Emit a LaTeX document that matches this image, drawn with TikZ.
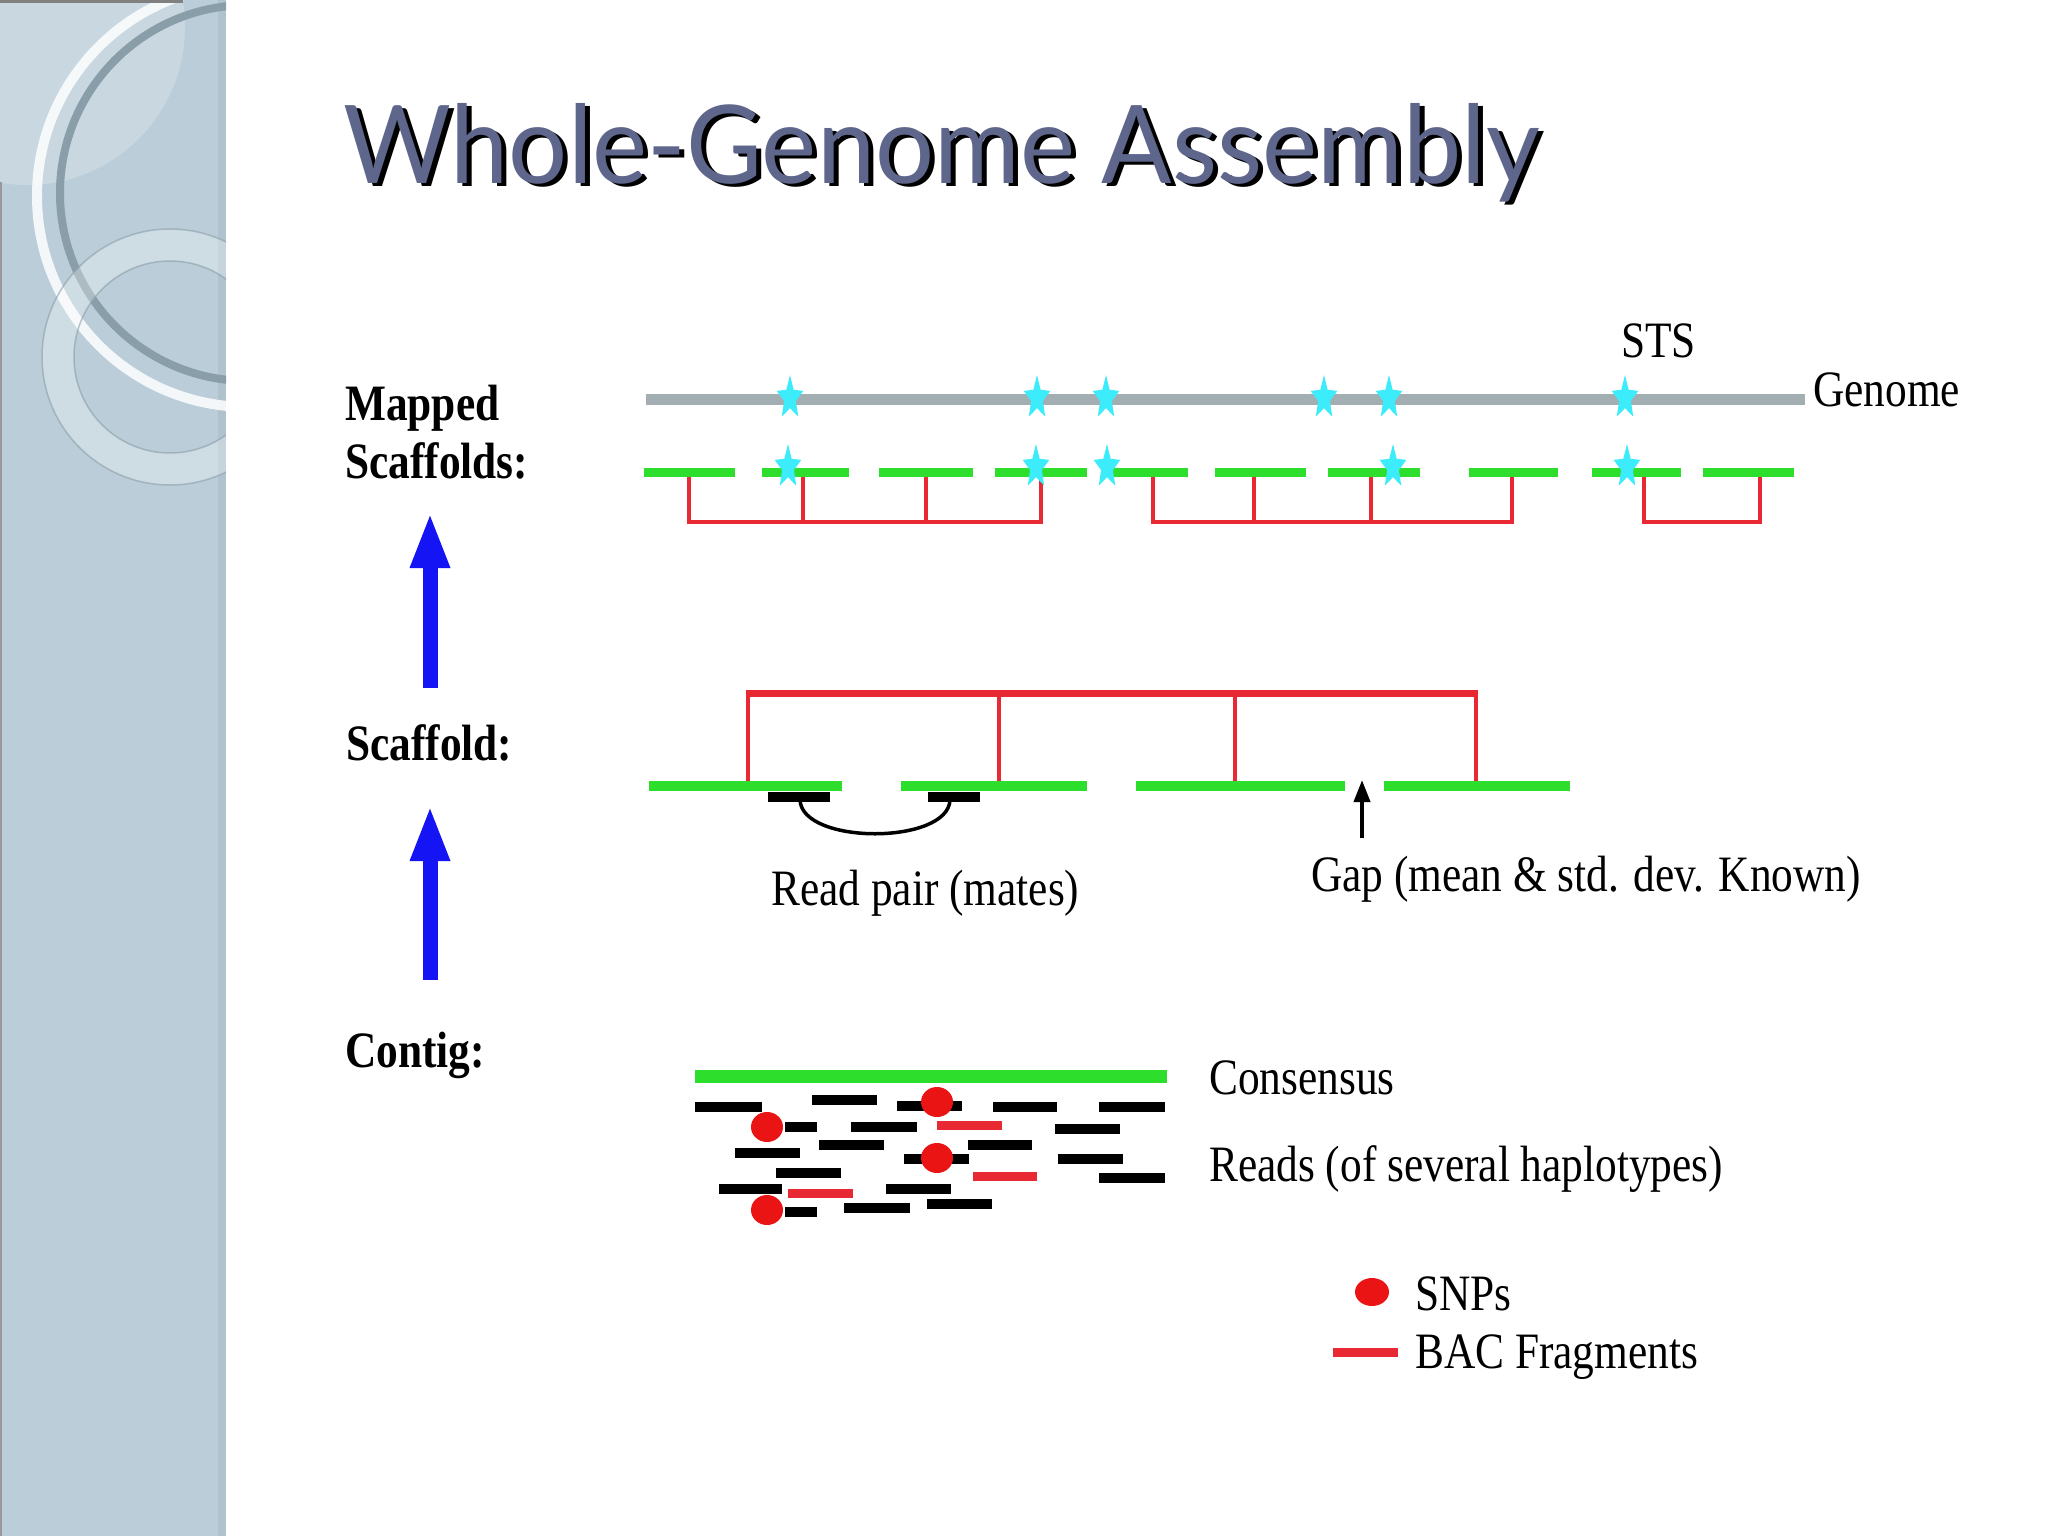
\documentclass[tikz,border=0pt]{standalone}
\usepackage{fontspec}
\setmainfont{Liberation Serif}
\newfontfamily\labfont[FakeStretch=0.85]{Liberation Serif}
\newfontfamily\titlefont{Lato}
\usetikzlibrary{arrows.meta}
\definecolor{sidebg}{RGB}{186,205,216}
\definecolor{sidestripe}{RGB}{168,188,200}
\definecolor{ringdark}{RGB}{138,158,170}
\definecolor{genomegray}{RGB}{163,174,179}
\definecolor{stscyan}{RGB}{60,236,250}
\definecolor{scafgreen}{RGB}{45,222,45}
\definecolor{bacred}{RGB}{232,40,50}
\definecolor{snpred}{RGB}{235,20,20}
\definecolor{titleblue}{RGB}{94,102,140}
\definecolor{arrowblue}{RGB}{20,20,245}
\newcommand\titletext{\resizebox{1196pt}{80pt}{\titlefont Whole-Genome Assembly}}
\tikzset{
  lbl/.style={anchor=base west, inner sep=0pt, font={\labfont\fontsize{51}{58}\selectfont}},
  blbl/.style={anchor=base west, inner sep=0pt, font={\labfont\bfseries\fontsize{51}{58}\selectfont}},
  gline/.style={genomegray, line width=11pt},
  gdash/.style={scafgreen, line width=9pt},
  gmid/.style={scafgreen, line width=10pt},
  bracket/.style={bacred, line width=4pt},
  readbar/.style={black, line width=10pt},
  bacbar/.style={bacred, line width=9pt},
  bluearrow/.style={arrowblue, line width=15pt, -{Triangle[width=36pt,length=56pt]}},
  gaparrow/.style={black, line width=4pt, -{Triangle[width=16pt,length=22pt]}},
  sts/.pic={\fill[stscyan] (90:14pt and 23pt) -- (126:6.2pt and 10.2pt) -- (162:14pt and 23pt) -- (198:6.2pt and 10.2pt) -- (234:14pt and 23pt) -- (270:6.2pt and 10.2pt) -- (306:14pt and 23pt) -- (342:6.2pt and 10.2pt) -- (18:14pt and 23pt) -- (54:6.2pt and 10.2pt) -- cycle;}
}
\begin{document}
\begin{tikzpicture}[x=1pt,y=-1pt]
\useasboundingbox (0,0) rectangle (2048,1536);
\fill[white] (0,0) rectangle (2048,1536);
% sidebar
\fill[sidebg] (0,0) rectangle (226,1536);
\fill[sidestripe, opacity=0.6] (218,0) rectangle (226,1536);
\begin{scope}
  \clip (0,0) rectangle (226,1536);
  \fill[white, opacity=0.22] (27,27) circle (158pt);
  \draw[white, opacity=0.85, line width=10pt] (248,196) circle (211pt);
  \draw[ringdark, line width=8pt] (248,193) circle (188pt);
  \draw[white, opacity=0.3, line width=32pt] (170,357) circle (112pt);
  \draw[ringdark, opacity=0.6, line width=1.5pt] (170,357) circle (128pt);
  \draw[ringdark, opacity=0.6, line width=1.5pt] (170,357) circle (96pt);
\end{scope}
\draw[gray, line width=3pt] (0,1.5) -- (183,1.5);
\draw[gray!80, line width=2pt] (1,182) -- (1,1536);
% title with shadow
\node[anchor=base west, inner sep=0pt, text=titleblue] (title) at (343,183)
  {\makebox[0pt][l]{\raisebox{-4pt}{\hspace{5pt}\textcolor{black}{\titletext}}}\titletext};
% left labels
\node[blbl] (mapped) at (345,420) {Mapped};
\node[blbl] (scaffolds) at (345,478) {Scaffolds:};
\node[blbl] (scaffold) at (346,760) {Scaffold:};
\node[blbl] (contig) at (345,1067) {Contig:};
% blue arrows
\coordinate (a1s) at (430,688);
\coordinate (a1e) at (430,512);
\coordinate (a2s) at (430,980);
\coordinate (a2e) at (430,805);
\draw[bluearrow] (a1s) -- (a1e);
\draw[bluearrow] (a2s) -- (a2e);
% genome row
\draw[gline] (646,399) -- (1805,399);
\node[lbl] (sts) at (1621,357) {STS};
\node[lbl] (genome) at (1813,406) {Genome};
% mapped scaffolds brackets
\draw[bracket] (689,472) -- (689,522) -- (1041,522) -- (1041,472);
\foreach \x in {803,926} \draw[bracket] (\x,472) -- (\x,522);
\draw[bracket] (1153,472) -- (1153,522) -- (1512,522) -- (1512,472);
\foreach \x in {1254,1371} \draw[bracket] (\x,472) -- (\x,522);
\draw[bracket] (1644,472) -- (1644,522) -- (1760,522) -- (1760,472);
% mapped green dashes
\foreach \a/\b in {644/735, 762/849, 879/973, 995/1087, 1107/1188, 1215/1306, 1328/1420, 1469/1558, 1592/1681, 1703/1794}
  \draw[gdash] (\a,472) -- (\b,472);
% STS stars
\foreach \x in {790,1037,1106,1324,1389,1625} \pic at (\x,398) {sts};
\foreach \x in {788,1036,1107,1393,1627} \pic at (\x,467) {sts};
% scaffold row
\draw[bacred, line width=3.5pt] (748,693) -- (748,786);
\draw[bacred, line width=3.5pt] (999,693) -- (999,786);
\draw[bacred, line width=3.5pt] (1235,693) -- (1235,786);
\draw[bacred, line width=3.5pt] (1476,693) -- (1476,786);
\draw[bacred, line width=7pt] (746.25,693) -- (1477.75,693);
\foreach \a/\b in {649/842, 901/1087, 1136/1345, 1384/1570}
  \draw[gmid] (\a,786) -- (\b,786);
\draw[readbar] (768,797) -- (830,797);
\draw[readbar] (928,797) -- (980,797);
\draw[black, line width=3.5pt] (800,800) .. controls (802,845) and (948,845) .. (950,800);
\coordinate (gaps) at (1362,838);
\coordinate (gape) at (1362,780);
\draw[gaparrow] (gaps) -- (gape);
\node[lbl] (readpair) at (771,905) {Read pair (mates)};
\node[lbl] (gap) at (1311,891) {Gap (mean \& std. dev. Known)};
% contig
\draw[scafgreen, line width=13pt] (695,1076) -- (1167,1076);
\foreach \a/\b/\y in {695/762/1107, 812/877/1100, 897/962/1106, 993/1057/1107, 1099/1165/1107,
  785/817/1127, 851/917/1127, 1055/1120/1129, 819/884/1145, 968/1032/1145, 735/800/1153,
  904/969/1159, 1058/1123/1159, 776/841/1173, 1099/1165/1178, 719/782/1189, 886/951/1189,
  927/992/1204, 844/910/1208, 785/817/1212}
  \draw[readbar] (\a,\y) -- (\b,\y);
\foreach \a/\b/\y in {937/1002/1125, 973/1037/1176, 788/853/1193}
  \draw[bacbar] (\a,\y) -- (\b,\y);
\foreach \x/\y in {937/1102, 767/1127, 937/1158, 767/1210}
  \fill[snpred] (\x,\y) ellipse [x radius=16pt, y radius=15pt];
\node[lbl] (consensus) at (1209,1094) {Consensus};
\node[lbl] (reads) at (1209,1181) {Reads (of several haplotypes)};
% legend
\fill[snpred] (1372,1292) ellipse [x radius=17pt, y radius=14pt];
\draw[bacbar] (1333,1352) -- (1398,1352);
\node[lbl] (snps) at (1415,1310) {SNPs};
\node[lbl] (bac) at (1415,1368) {BAC Fragments};
\end{tikzpicture}
\end{document}
